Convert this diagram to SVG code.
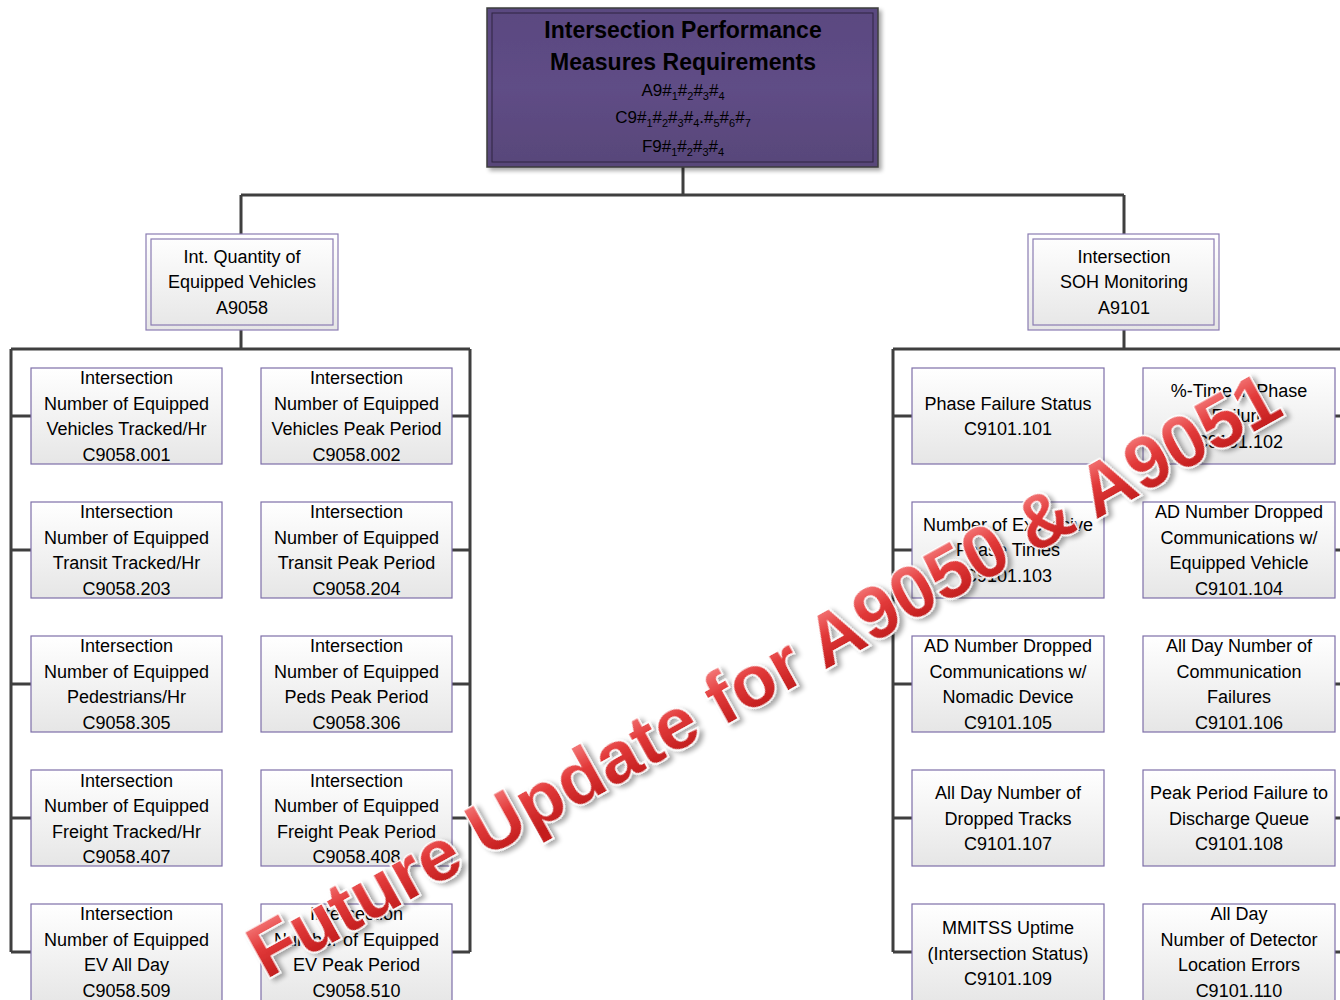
<svg xmlns="http://www.w3.org/2000/svg" width="1340" height="1000" viewBox="0 0 1340 1000">
  <defs>
    <linearGradient id="leafFill" x1="0" y1="0" x2="0" y2="1">
      <stop offset="0" stop-color="#ffffff"/>
      <stop offset="1" stop-color="#e6e6e6"/>
    </linearGradient>
    <linearGradient id="rootFill" x1="0" y1="0" x2="0" y2="1">
      <stop offset="0" stop-color="#5a4880"/>
      <stop offset="0.5" stop-color="#5f4d86"/>
      <stop offset="1" stop-color="#584679"/>
    </linearGradient>
    <linearGradient id="markFill" gradientUnits="userSpaceOnUse" x1="0" y1="-56" x2="0" y2="0">
      <stop offset="0" stop-color="#f47a7a"/>
      <stop offset="0.45" stop-color="#e23a3a"/>
      <stop offset="1" stop-color="#c41f1f"/>
    </linearGradient>
    <filter id="softShadow" x="-5%" y="-5%" width="115%" height="120%">
      <feGaussianBlur in="SourceAlpha" stdDeviation="2"/>
      <feOffset dx="3" dy="3" result="b"/>
      <feComponentTransfer><feFuncA type="linear" slope="0.35"/></feComponentTransfer>
      <feMerge><feMergeNode/><feMergeNode in="SourceGraphic"/></feMerge>
    </filter>
    <filter id="markShadow" x="-5%" y="-20%" width="110%" height="140%">
      <feGaussianBlur in="SourceAlpha" stdDeviation="2.5"/>
      <feOffset dx="3" dy="4"/>
      <feComponentTransfer><feFuncA type="linear" slope="0.35"/></feComponentTransfer>
      <feMerge><feMergeNode/><feMergeNode in="SourceGraphic"/></feMerge>
    </filter>
  </defs>
  <style>
    text { font-family: "Liberation Sans", Arial, sans-serif; fill: #000; text-anchor: middle; }
    .leaf rect { fill: url(#leafFill); stroke: #7e6fa8; stroke-width: 1.2; }
    .leaf text { font-size: 18px; }
    .sub .outer { fill: url(#leafFill); stroke: #8a7cb2; stroke-width: 1.2; }
    .sub .inner { fill: none; stroke: #8a7cb2; stroke-width: 1.2; }
    .sub text { font-size: 18px; }
    .wire { fill: none; stroke: #3f3f3f; stroke-width: 3; }
    .root-title { font-size: 23px; font-weight: bold; }
    .root-code { font-size: 17px; }
    .root-code .s { font-size: 11px; }
    .mark { font-size: 74px; font-weight: bold; fill: url(#markFill); stroke: #ffffff; stroke-width: 3; paint-order: stroke; }
  </style>

  <!-- connectors -->
  <g id="connectors" class="wire">
    <path d="M683 167 V195 M241 195 H1124 M241 195 V234 M1124 195 V234"/>
    <!-- A9058 branch -->
    <path d="M241 330 V349 M11 349 H470 M11 349 V952 M470 349 V952"/>
    <path d="M11 416 H31 M11 550 H31 M11 684 H31 M11 818 H31 M11 952 H31"/>
    <path d="M452 416 H470 M452 550 H470 M452 684 H470 M452 818 H470 M452 952 H470"/>
    <!-- A9101 branch -->
    <path d="M1124 330 V349 M893 349 H1345 M893 349 V952"/>
    <path d="M893 416 H912 M893 550 H912 M893 684 H912 M893 818 H912 M893 952 H912"/>
    <path d="M1335 416 H1345 M1335 550 H1345 M1335 684 H1345 M1335 818 H1345 M1335 952 H1345"/>
  </g>

  <!-- root -->
  <g id="root">
    <rect x="487" y="8" width="391" height="159" fill="url(#rootFill)" stroke="#3c3c3c" stroke-width="1.5" filter="url(#softShadow)"/>
    <rect x="492" y="13" width="381" height="149" fill="none" stroke="#2e2540" stroke-width="1"/>
    <text class="root-title" x="683" y="38">Intersection Performance</text>
    <text class="root-title" x="683" y="70">Measures Requirements</text>
    <text class="root-code" x="683" y="96">A9#<tspan class="s" dy="4">1</tspan><tspan dy="-4">#</tspan><tspan class="s" dy="4">2</tspan><tspan dy="-4">#</tspan><tspan class="s" dy="4">3</tspan><tspan dy="-4">#</tspan><tspan class="s" dy="4">4</tspan></text>
    <text class="root-code" x="683" y="123">C9#<tspan class="s" dy="4">1</tspan><tspan dy="-4">#</tspan><tspan class="s" dy="4">2</tspan><tspan dy="-4">#</tspan><tspan class="s" dy="4">3</tspan><tspan dy="-4">#</tspan><tspan class="s" dy="4">4</tspan><tspan dy="-4">.#</tspan><tspan class="s" dy="4">5</tspan><tspan dy="-4">#</tspan><tspan class="s" dy="4">6</tspan><tspan dy="-4">#</tspan><tspan class="s" dy="4">7</tspan></text>
    <text class="root-code" x="683" y="152">F9#<tspan class="s" dy="4">1</tspan><tspan dy="-4">#</tspan><tspan class="s" dy="4">2</tspan><tspan dy="-4">#</tspan><tspan class="s" dy="4">3</tspan><tspan dy="-4">#</tspan><tspan class="s" dy="4">4</tspan></text>
  </g>

  <!-- second level -->
  <g id="a9058" class="sub">
    <rect class="outer" x="146" y="234" width="192" height="96"/>
    <rect class="inner" x="151" y="239" width="182" height="86"/>
    <text x="242" y="263">Int. Quantity of</text>
    <text x="242" y="288">Equipped Vehicles</text>
    <text x="242" y="314">A9058</text>
  </g>
  <g id="a9101" class="sub">
    <rect class="outer" x="1028" y="234" width="191" height="96"/>
    <rect class="inner" x="1033" y="239" width="181" height="86"/>
    <text x="1124" y="263">Intersection</text>
    <text x="1124" y="288">SOH Monitoring</text>
    <text x="1124" y="314">A9101</text>
  </g>

  <!-- A9058 leaves -->
  <g id="c9058-001" class="leaf">
    <rect x="31" y="368" width="191" height="96"/>
    <text x="126.5" y="384">Intersection</text><text x="126.5" y="410">Number of Equipped</text>
    <text x="126.5" y="435">Vehicles Tracked/Hr</text><text x="126.5" y="461">C9058.001</text>
  </g>
  <g id="c9058-002" class="leaf">
    <rect x="261" y="368" width="191" height="96"/>
    <text x="356.5" y="384">Intersection</text><text x="356.5" y="410">Number of Equipped</text>
    <text x="356.5" y="435">Vehicles Peak Period</text><text x="356.5" y="461">C9058.002</text>
  </g>
  <g id="c9058-203" class="leaf">
    <rect x="31" y="502" width="191" height="96"/>
    <text x="126.5" y="518">Intersection</text><text x="126.5" y="544">Number of Equipped</text>
    <text x="126.5" y="569">Transit Tracked/Hr</text><text x="126.5" y="595">C9058.203</text>
  </g>
  <g id="c9058-204" class="leaf">
    <rect x="261" y="502" width="191" height="96"/>
    <text x="356.5" y="518">Intersection</text><text x="356.5" y="544">Number of Equipped</text>
    <text x="356.5" y="569">Transit Peak Period</text><text x="356.5" y="595">C9058.204</text>
  </g>
  <g id="c9058-305" class="leaf">
    <rect x="31" y="636" width="191" height="96"/>
    <text x="126.5" y="652">Intersection</text><text x="126.5" y="678">Number of Equipped</text>
    <text x="126.5" y="703">Pedestrians/Hr</text><text x="126.5" y="729">C9058.305</text>
  </g>
  <g id="c9058-306" class="leaf">
    <rect x="261" y="636" width="191" height="96"/>
    <text x="356.5" y="652">Intersection</text><text x="356.5" y="678">Number of Equipped</text>
    <text x="356.5" y="703">Peds Peak Period</text><text x="356.5" y="729">C9058.306</text>
  </g>
  <g id="c9058-407" class="leaf">
    <rect x="31" y="770" width="191" height="96"/>
    <text x="126.5" y="787">Intersection</text><text x="126.5" y="812">Number of Equipped</text>
    <text x="126.5" y="838">Freight Tracked/Hr</text><text x="126.5" y="863">C9058.407</text>
  </g>
  <g id="c9058-408" class="leaf">
    <rect x="261" y="770" width="191" height="96"/>
    <text x="356.5" y="787">Intersection</text><text x="356.5" y="812">Number of Equipped</text>
    <text x="356.5" y="838">Freight Peak Period</text><text x="356.5" y="863">C9058.408</text>
  </g>
  <g id="c9058-509" class="leaf">
    <rect x="31" y="904" width="191" height="100"/>
    <text x="126.5" y="920">Intersection</text><text x="126.5" y="946">Number of Equipped</text>
    <text x="126.5" y="971">EV All Day</text><text x="126.5" y="997">C9058.509</text>
  </g>
  <g id="c9058-510" class="leaf">
    <rect x="261" y="904" width="191" height="100"/>
    <text x="356.5" y="920">Intersection</text><text x="356.5" y="946">Number of Equipped</text>
    <text x="356.5" y="971">EV Peak Period</text><text x="356.5" y="997">C9058.510</text>
  </g>

  <!-- A9101 leaves -->
  <g id="c9101-101" class="leaf">
    <rect x="912" y="368" width="192" height="96"/>
    <text x="1008" y="410">Phase Failure Status</text><text x="1008" y="435">C9101.101</text>
  </g>
  <g id="c9101-102" class="leaf">
    <rect x="1143" y="368" width="192" height="96"/>
    <text x="1239" y="397">%-Time in Phase</text><text x="1239" y="422">Failure</text>
    <text x="1239" y="448">C9101.102</text>
  </g>
  <g id="c9101-103" class="leaf">
    <rect x="912" y="502" width="192" height="96"/>
    <text x="1008" y="531">Number of  Excessive</text><text x="1008" y="556">Phase Times</text>
    <text x="1008" y="582">C9101.103</text>
  </g>
  <g id="c9101-104" class="leaf">
    <rect x="1143" y="502" width="192" height="96"/>
    <text x="1239" y="518">AD Number Dropped</text><text x="1239" y="544">Communications w/</text>
    <text x="1239" y="569">Equipped Vehicle</text><text x="1239" y="595">C9101.104</text>
  </g>
  <g id="c9101-105" class="leaf">
    <rect x="912" y="636" width="192" height="96"/>
    <text x="1008" y="652">AD Number Dropped</text><text x="1008" y="678">Communications w/</text>
    <text x="1008" y="703">Nomadic Device</text><text x="1008" y="729">C9101.105</text>
  </g>
  <g id="c9101-106" class="leaf">
    <rect x="1143" y="636" width="192" height="96"/>
    <text x="1239" y="652">All Day Number of</text><text x="1239" y="678">Communication</text>
    <text x="1239" y="703">Failures</text><text x="1239" y="729">C9101.106</text>
  </g>
  <g id="c9101-107" class="leaf">
    <rect x="912" y="770" width="192" height="96"/>
    <text x="1008" y="799">All Day Number of</text><text x="1008" y="825">Dropped Tracks</text>
    <text x="1008" y="850">C9101.107</text>
  </g>
  <g id="c9101-108" class="leaf">
    <rect x="1143" y="770" width="192" height="96"/>
    <text x="1239" y="799">Peak Period Failure to</text><text x="1239" y="825">Discharge Queue</text>
    <text x="1239" y="850">C9101.108</text>
  </g>
  <g id="c9101-109" class="leaf">
    <rect x="912" y="904" width="192" height="100"/>
    <text x="1008" y="934">MMITSS Uptime</text><text x="1008" y="960">(Intersection Status)</text>
    <text x="1008" y="985">C9101.109</text>
  </g>
  <g id="c9101-110" class="leaf">
    <rect x="1143" y="904" width="192" height="100"/>
    <text x="1239" y="920">All Day</text><text x="1239" y="946">Number of Detector</text>
    <text x="1239" y="971">Location Errors</text><text x="1239" y="997">C9101.110</text>
  </g>

  <!-- diagonal watermark -->
  <g id="watermark" transform="translate(776 697) rotate(-29)" filter="url(#markShadow)">
    <text class="mark" x="0" y="0">Future Update for A9050 &amp; A9051</text>
  </g>
</svg>
